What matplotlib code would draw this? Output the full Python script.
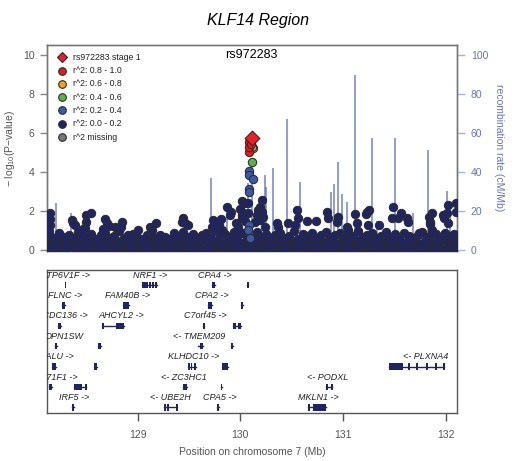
import matplotlib
matplotlib.use('Agg')
import matplotlib.pyplot as plt

plt.rcParams['font.family'] = ['Liberation Sans', 'DejaVu Sans']
plt.rcParams['mathtext.fontset'] = 'custom'
plt.rcParams['mathtext.rm'] = 'Liberation Sans'

# background SNPs (r^2 0.0 - 0.2), dense band near zero
band_pos = [128.125, 128.17, 128.214, 128.26, 128.303, 128.35, 128.392, 128.437, 128.483, 128.527,
            128.572, 128.618, 128.661, 128.706, 128.752, 128.795, 128.841, 128.886, 128.93, 128.975,
            129.021, 129.064, 129.11, 129.154, 129.199, 129.243, 129.289, 129.333, 129.378, 129.423,
            129.468, 129.512, 129.557, 129.601, 129.647, 129.691, 129.736, 129.781, 129.825, 129.87,
            129.914, 129.96, 130.004, 130.049, 130.094, 130.139, 130.183, 130.228, 130.272, 130.318,
            130.362, 130.407, 130.451, 130.497, 130.541, 130.586, 130.63, 130.676, 130.72, 130.765,
            130.81, 130.854, 130.9, 130.944, 130.989, 131.033, 131.079, 131.123, 131.168, 131.212,
            131.258, 131.302, 131.347, 131.392, 131.437, 131.481, 131.526, 131.571, 131.615, 131.66,
            131.705, 131.75, 131.794, 131.839, 131.884, 131.929, 131.973, 132.018, 132.063, 132.1]
band_low = [0.08, 0.15, 0.05, 0.12, 0.07, 0.18, 0.04, 0.10, 0.14, 0.06,
            0.12, 0.03, 0.16, 0.08, 0.11, 0.05, 0.14, 0.09, 0.03, 0.12,
            0.07, 0.15, 0.04, 0.10, 0.13, 0.06, 0.11, 0.02, 0.17, 0.08,
            0.12, 0.05, 0.14, 0.09, 0.03, 0.12, 0.07, 0.15, 0.05, 0.10,
            0.13, 0.06, 0.11, 0.04, 0.16, 0.08, 0.12, 0.05, 0.14, 0.09,
            0.03, 0.12, 0.07, 0.15, 0.04, 0.10, 0.13, 0.06, 0.11, 0.02,
            0.17, 0.08, 0.12, 0.05, 0.14, 0.09, 0.03, 0.12, 0.07, 0.15,
            0.05, 0.10, 0.13, 0.06, 0.11, 0.04, 0.16, 0.08, 0.12, 0.05,
            0.14, 0.09, 0.03, 0.12, 0.07, 0.15, 0.05, 0.10, 0.13, 0.06]
band_mid = [0.38, 0.45, 0.31, 0.50, 0.36, 0.42, 0.33, 0.47, 0.40, 0.29,
            0.44, 0.37, 0.51, 0.34, 0.41, 0.30, 0.46, 0.39, 0.35, 0.48,
            0.32, 0.43, 0.37, 0.50, 0.29, 0.41, 0.45, 0.34, 0.39, 0.47,
            0.31, 0.44, 0.36, 0.42, 0.49, 0.33, 0.40, 0.46, 0.30, 0.43,
            0.38, 0.52, 0.35, 0.41, 0.45, 0.32, 0.48, 0.37, 0.43, 0.30,
            0.46, 0.39, 0.34, 0.50, 0.41, 0.36, 0.44, 0.31, 0.47, 0.38,
            0.33, 0.45, 0.40, 0.29, 0.48, 0.35, 0.42, 0.37, 0.51, 0.32,
            0.44, 0.39, 0.30, 0.46, 0.36, 0.43, 0.49, 0.34, 0.41, 0.38,
            0.45, 0.31, 0.47, 0.40, 0.35, 0.43, 0.50, 0.33, 0.42, 0.39]
top_pos = [128.147, 128.19, 128.238, 128.281, 128.327, 128.371, 128.415, 128.46, 128.505, 128.55,
           128.594, 128.64, 128.683, 128.729, 128.773, 128.818, 128.863, 128.908, 128.953, 128.998,
           129.042, 129.087, 129.132, 129.177, 129.221, 129.266, 129.311, 129.356, 129.4, 129.445,
           129.49, 129.535, 129.579, 129.624, 129.669, 129.713, 129.758, 129.803, 129.848, 129.892,
           129.937, 129.982, 130.027, 130.061, 130.132, 130.161, 130.205, 130.25, 130.295, 130.34,
           130.384, 130.429, 130.474, 130.519, 130.563, 130.608, 130.653, 130.698, 130.742, 130.787,
           130.832, 130.877, 130.921, 130.966, 131.011, 131.056, 131.1, 131.145, 131.19, 131.235,
           131.28, 131.324, 131.369, 131.414, 131.459, 131.503, 131.548, 131.593, 131.638, 131.682,
           131.727, 131.772, 131.817, 131.861, 131.906, 131.951, 131.996, 132.04, 132.085]
top_logp = [0.72, 0.61, 0.85, 0.66, 0.78, 0.59, 0.92, 0.70, 0.64, 0.81,
            0.57, 0.75, 0.88, 0.63, 0.69, 0.96, 0.60, 0.77, 0.83, 0.66,
            0.58, 0.74, 0.90, 0.62, 0.79, 0.68, 0.55, 0.86, 0.71, 0.93,
            0.65, 0.80, 0.59, 0.74, 0.87, 0.62, 0.96, 0.70, 0.82, 0.64,
            0.91, 0.75, 0.86, 0.68, 0.78, 0.94, 0.66, 0.83, 0.60, 0.76,
            0.89, 0.63, 0.72, 0.97, 0.58, 0.81, 0.69, 0.86, 0.61, 0.77,
            0.93, 0.66, 0.74, 0.88, 0.59, 0.82, 0.70, 0.95, 0.64, 0.78,
            0.85, 0.61, 0.73, 0.90, 0.67, 0.80, 0.57, 0.87, 0.71, 0.63,
            0.79, 0.92, 0.68, 0.75, 0.84, 0.60, 0.89, 0.72, 0.81]

# scattered background SNPs above the band
hi_pos = [128.146, 128.146, 128.150, 128.140, 128.358, 128.37, 128.39, 128.497, 128.545, 128.497,
          128.487, 128.47, 128.682, 128.698, 128.72, 128.779, 128.665, 128.796, 128.844, 128.84,
          129.0, 129.175, 129.12, 129.136, 129.438, 129.461, 129.487, 129.428, 129.736, 129.72,
          129.81, 129.79, 129.82, 129.867, 129.909, 129.90, 129.954, 129.974, 130.013, 130.045,
          129.996, 130.028, 130.013, 130.045, 130.072, 130.013, 130.07, 130.213, 130.191, 130.175,
          130.207, 130.159, 130.223, 130.191, 130.142, 130.24, 130.359, 130.369, 130.467, 130.548,
          130.564, 130.532, 130.646, 130.736, 130.84, 130.856, 130.953, 130.938, 131.035, 131.051,
          131.116, 131.133, 131.23, 131.252, 131.22, 131.24, 131.353, 131.489, 131.473, 131.564,
          131.538, 131.619, 131.635, 131.739, 131.84, 131.869, 131.846, 131.85, 131.869, 131.976,
          132.019, 132.009, 131.985, 132.02, 132.1, 132.1]
hi_logp = [1.88, 1.57, 1.30, 0.96, 1.54, 1.37, 1.28, 1.78, 1.90, 1.45,
           1.12, 1.05, 1.60, 1.40, 1.25, 1.20, 1.05, 1.12, 1.45, 1.20,
           1.02, 1.37, 1.20, 1.03, 1.62, 1.37, 1.28, 1.45, 1.54, 1.20,
           1.57, 1.30, 1.03, 2.19, 1.93, 1.80, 1.37, 1.18, 2.53, 2.39,
           2.08, 1.90, 1.65, 1.48, 2.40, 1.80, 1.90, 2.56, 2.22, 2.05,
           1.96, 1.79, 1.71, 1.54, 1.45, 1.20, 1.40, 1.20, 1.37, 2.05,
           1.62, 1.28, 1.50, 1.50, 1.96, 1.62, 1.71, 1.45, 1.20, 1.03,
           1.85, 1.37, 1.96, 2.05, 1.85, 1.30, 1.27, 2.22, 1.62, 1.88,
           1.62, 1.62, 1.45, 0.86, 1.71, 1.88, 1.45, 1.33, 1.03, 1.79,
           2.31, 1.88, 1.62, 1.37, 2.39, 1.96]

# SNPs in LD with the lead SNP
ld2_pos = [130.087, 130.087, 130.12, 130.087, 130.087, 130.08, 130.083, 130.077, 130.095]
ld2_logp = [4.07, 3.85, 3.64, 3.11, 2.98, 1.28, 0.87, 1.03, 0.60]
ld4_pos = [130.116]
ld4_logp = [4.53]
ld6_pos = [130.12, 130.118]
ld6_logp = [5.21, 5.30]
ld8_pos = [130.087, 130.08, 130.083, 130.10]
ld8_logp = [5.01, 5.55, 5.30, 5.45]
lead_pos = 130.11
lead_logp = 5.73
lead_name = 'rs972283'

# recombination rate (cM/Mb)
recomb_pos = [128.205, 128.30, 128.348, 128.562, 128.9, 129.2, 129.5, 129.714, 129.867, 130.071,
              130.116, 130.24, 130.25, 130.315, 130.45, 130.58, 130.75, 130.88, 130.915, 130.947,
              130.986, 131.035, 131.116, 131.28, 131.33, 131.505, 131.684, 131.83, 132.009, 132.04]
recomb_rate = [24.3, 4.0, 19.0, 10.0, 5.0, 3.0, 6.0, 37.0, 23.0, 34.5,
               44.6, 38.5, 32.5, 42.2, 67.5, 35.0, 8.0, 30.0, 33.8, 45.3,
               28.7, 24.8, 89.7, 57.6, 15.0, 57.3, 18.8, 51.3, 30.4, 22.0]

# genes: label, row, start, end, exons, label centre
gene_labels = ['ATP6V1F ->', 'NRF1 ->', 'CPA4 ->', '',
               'FLNC ->', 'FAM40B ->', 'CPA2 ->', '',
               'CCDC136 ->', 'AHCYL2 ->', 'C7orf45 ->', '',
               'OPN1SW', '', '<- TMEM209', '',
               'CALU ->', '', 'KLHDC10 ->', '', '<- PLXNA4',
               'FAM71F1 ->', '', '<- ZC3HC1', '', '<- PODXL',
               'IRF5 ->', '<- UBE2H', 'CPA5 ->', 'MKLN1 ->']
gene_rows = [0, 0, 0, 0,
             1, 1, 1, 1,
             2, 2, 2, 2,
             3, 3, 3, 3,
             4, 4, 4, 4, 4,
             5, 5, 5, 5, 5,
             6, 6, 6, 6]
gene_starts = [128.288, 129.039, 129.724, 130.068,
               128.26, 128.86, 129.688, 130.003,
               128.221, 128.65, 129.633, 129.931,
               128.195, 128.617, 129.59, 129.909,
               128.163, 128.577, 129.493, 129.824, 131.45,
               128.14, 128.38, 129.444, 129.808, 130.834,
               128.363, 129.259, 129.769, 130.661]
gene_ends = [128.296, 129.191, 129.753, 130.074,
             128.29, 128.92, 129.72, 130.022,
             128.253, 128.867, 129.646, 130.003,
             128.211, 128.643, 129.64, 129.931,
             128.205, 128.601, 129.568, 129.877, 131.983,
             128.163, 128.494, 129.483, 129.818, 130.895,
             128.383, 129.386, 129.795, 130.834]
gene_exons = [None, [(129.039, 129.05), (129.06, 129.075), (129.085, 129.10), (129.11, 129.13),
                     (129.14, 129.16), (129.17, 129.191)], None, None,
              None, None, None, None,
              None, [(128.65, 128.656), (128.789, 128.867)], None, [(129.931, 129.953), (129.98, 130.003)],
              None, None, [(129.609, 129.64)], None,
              None, None, [(129.493, 129.505), (129.515, 129.53), (129.545, 129.568)], None,
              [(131.45, 131.58), (131.635, 131.643), (131.713, 131.72), (131.81, 131.83),
               (131.893, 131.9), (131.976, 131.983)],
              None, [(128.38, 128.455), (128.488, 128.494)], None, None,
              [(130.834, 130.843), (130.886, 130.895)],
              None, [(129.259, 129.27), (129.285, 129.30), (129.372, 129.386)], None,
              [(130.661, 130.666), (130.71, 130.834)]]
gene_label_x = [128.30, 129.123, 129.753, 0,
                128.295, 128.899, 129.72, 0,
                128.263, 128.837, 129.655, 0,
                128.283, 0, 129.60, 0,
                128.205, 0, 129.541, 0, 131.80,
                128.176, 0, 129.448, 0, 130.85,
                128.38, 129.315, 129.802, 130.762]

xmin, xmax = 128.117, 132.11
grey = '#555555'
recomb_col = '#6474be'
navy = '#1f2466'
edge = '#2b2b2b'

fig = plt.figure(figsize=(5.16, 4.61), dpi=100)
ax = fig.add_axes([47 / 516, 1 - 250.7 / 461, 410 / 516, 205.4 / 461])
ax2 = ax.twinx()
ax.set_zorder(ax2.get_zorder() + 1)
ax.patch.set_visible(False)

ax2.vlines(recomb_pos, 0, recomb_rate, color='#5a6cc4', lw=1.1, alpha=0.85)
ax2.set_ylim(-0.4, 105.2)
ax2.set_yticks([0, 20, 40, 60, 80, 100])
ax2.tick_params(axis='y', colors='#a9b2de', labelcolor=recomb_col, labelsize=7.5,
                length=6, width=1, pad=4)
ax2.set_ylabel('recombination rate (cM/Mb)', color=recomb_col, fontsize=7.5,
               rotation=270, labelpad=11)

snp_kw = dict(s=36, edgecolors=edge, linewidths=0.75, zorder=3)
ax.scatter(band_pos, band_low, c=navy, **snp_kw)
ax.scatter(band_pos, band_mid, c=navy, **snp_kw)
ax.scatter(top_pos, top_logp, c=navy, **snp_kw)
ax.scatter(hi_pos, hi_logp, c=navy, **snp_kw)
ax.scatter(ld2_pos, ld2_logp, c='#3a5aa8', **snp_kw)
ax.scatter(ld4_pos, ld4_logp, c='#5bb543', **snp_kw)
ax.scatter(ld6_pos, ld6_logp, c='#f5a21a', **snp_kw)
ax.scatter(ld8_pos, ld8_logp, c='#e31a1c', **snp_kw)
ax.scatter([lead_pos], [lead_logp], marker='D', s=56, c='#e8202a',
           edgecolors=edge, linewidths=0.8, zorder=4)
ax.text(130.103, 10.0, lead_name, ha='center', va='center', fontsize=9)

ax.set_xlim(xmin, xmax)
ax.set_ylim(-0.04, 10.5)
ax.set_xticks([])
ax.set_yticks([0, 2, 4, 6, 8, 10])
ax.tick_params(axis='y', colors='#888888', labelcolor=grey, labelsize=7.5,
               length=5, width=1, pad=4)
ax.set_ylabel('$-$ log$_{10}$(P$-$value)', color=grey, fontsize=7.5, labelpad=4)
for spine in list(ax.spines.values()) + list(ax2.spines.values()):
    spine.set_color('#777777')
    spine.set_linewidth(1)

# legend drawn in axes coordinates
legend_entries = [('D', '#e8202a', lead_name + ' stage 1'),
                  ('o', '#e31a1c', 'r^2: 0.8 - 1.0'),
                  ('o', '#f5a21a', 'r^2: 0.6 - 0.8'),
                  ('o', '#5bb543', 'r^2: 0.4 - 0.6'),
                  ('o', '#3a5aa8', 'r^2: 0.2 - 0.4'),
                  ('o', navy, 'r^2: 0.0 - 0.2'),
                  ('o', '#777777', 'r^2 missing')]
for i, (mk, col, lab) in enumerate(legend_entries):
    yy = 0.942 - i * 0.0648
    ax.scatter([0.036], [yy], marker=mk, s=30 if mk == 'o' else 26, c=col,
               edgecolors=edge, linewidths=0.8, transform=ax.transAxes, zorder=5,
               clip_on=False)
    ax.text(0.064, yy, lab, transform=ax.transAxes, fontsize=6.3, va='center',
            color='#222222')

# gene track
gx = fig.add_axes([47 / 516, 1 - 413 / 461, 410 / 516, 143 / 461])
gx.set_xlim(xmin, xmax)
gx.set_ylim(7, 0)
for i in range(len(gene_labels)):
    row = gene_rows[i]
    yb = row + 0.73
    gx.plot([gene_starts[i], gene_ends[i]], [yb, yb], color=navy, lw=1)
    exons = gene_exons[i] or [(gene_starts[i], gene_ends[i])]
    gx.broken_barh([(s, max(e - s, 0.018)) for s, e in exons], (yb - 0.16, 0.32),
                   facecolors=navy, edgecolors='none')
    if gene_labels[i]:
        gx.text(gene_label_x[i], row + 0.25, gene_labels[i], ha='center', va='center',
                fontsize=6.5, style='italic', color='#222222', clip_on=True)
gx.set_yticks([])
gx.set_xticks([129, 130, 131, 132])
gx.tick_params(axis='x', colors='#555555', labelcolor=grey, labelsize=7.5,
               length=6, width=1, pad=6)
gx.set_xlabel('Position on chromosome 7 (Mb)', color=grey, fontsize=7.5, labelpad=5)
for spine in gx.spines.values():
    spine.set_color('#555555')
    spine.set_linewidth(1)

fig.text(0.5, 1 - 20 / 461, 'KLF14 Region', ha='center', va='center',
         fontsize=11.5, style='italic')

fig.savefig('out.png', dpi=100)
